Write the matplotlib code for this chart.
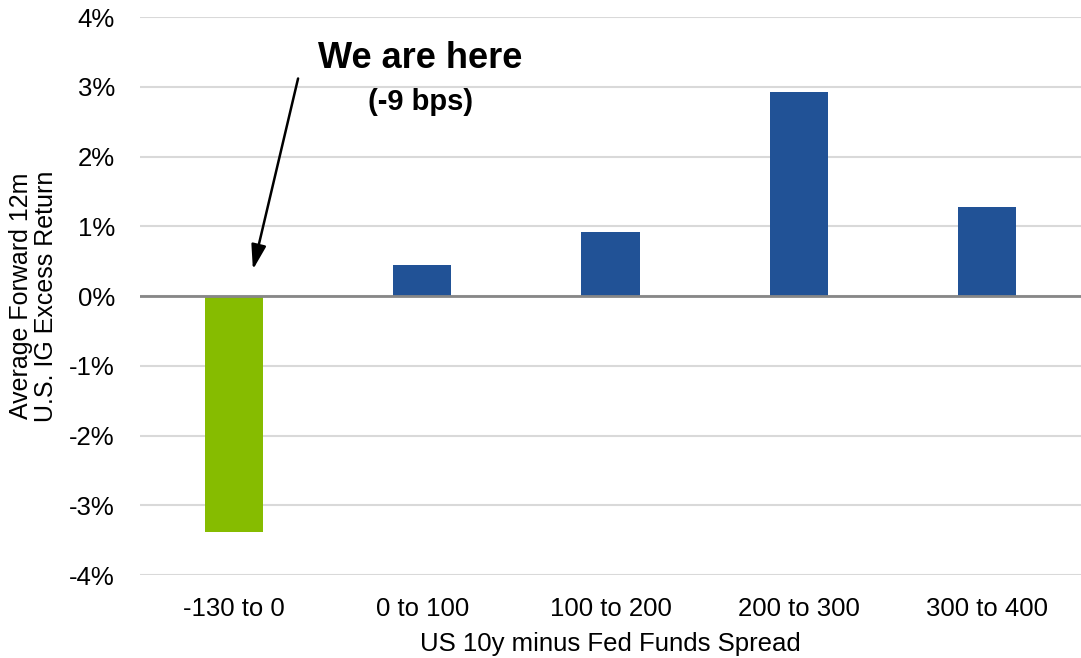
import matplotlib
matplotlib.use("Agg")
import matplotlib.pyplot as plt
from matplotlib.ticker import FuncFormatter

plt.rcParams["font.family"] = ["Liberation Sans", "DejaVu Sans"]

# spread buckets (bps) and average forward 12m IG excess return (%)
buckets = ["-130 to 0", "0 to 100", "100 to 200", "200 to 300", "300 to 400"]
excess_return = [-3.38, 0.44, 0.92, 2.93, 1.28]
bar_colors = ["#86bc00", "#215296", "#215296", "#215296", "#215296"]
y_ticks = [-4, -3, -2, -1, 0, 1, 2, 3, 4]

fig = plt.figure(figsize=(10.81, 6.58), dpi=100)
ax = fig.add_axes([0.1295, 0.126, 0.8705, 0.848])

x = range(len(buckets))
ax.bar(x, excess_return, width=0.31, color=bar_colors, zorder=3)

ax.set_xlim(-0.5, len(buckets) - 0.5)
ax.set_ylim(-4, 4)
ax.set_yticks(y_ticks)
ax.yaxis.set_major_formatter(FuncFormatter(lambda v, _: f"{v:.0f}%"))
ax.set_xticks(list(x))
ax.set_xticklabels(buckets)
ax.tick_params(axis="both", length=0, labelsize=18.5, colors="black")
ax.tick_params(axis="y", pad=18)
ax.tick_params(axis="x", pad=16)

ax.grid(axis="y", color="#d9d9d9", linewidth=1.5, zorder=0)
ax.axhline(0, color="#878787", linewidth=2, zorder=4)
for side in ax.spines.values():
    side.set_visible(False)

ax.set_ylabel("Average Forward 12m\nU.S. IG Excess Return", fontsize=18,
              linespacing=1.05, labelpad=8)
ax.set_xlabel("US 10y minus Fed Funds Spread", fontsize=18.5, labelpad=8)

# marker for the current spread
ax.annotate("", xy=(0.1, 0.38), xytext=(0.34, 3.12),
            arrowprops=dict(arrowstyle="-|>,head_length=1.5,head_width=0.45",
                            color="black", lw=1.8, shrinkA=0, shrinkB=0),
            zorder=5)
ax.text(0.99, 3.41, "We are here", fontsize=26, fontweight="bold",
        ha="center", va="center")
ax.text(0.99, 2.79, "(-9 bps)", fontsize=21, fontweight="bold",
        ha="center", va="center")

fig.savefig("out.png", dpi=100)
